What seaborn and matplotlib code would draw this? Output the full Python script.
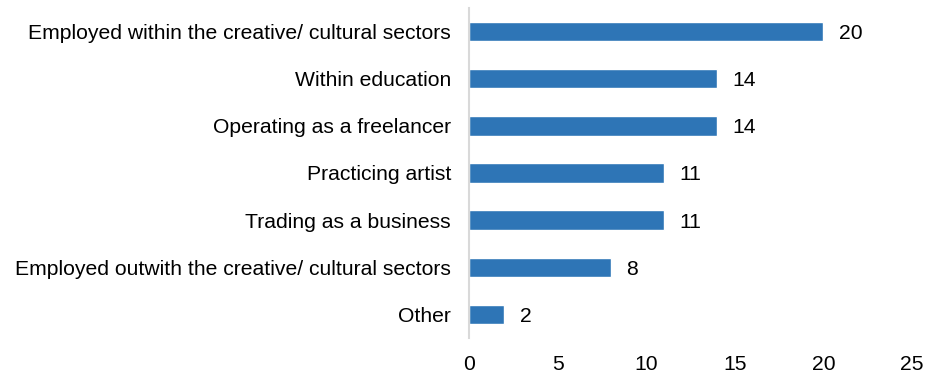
import matplotlib
matplotlib.use("Agg")
import matplotlib.pyplot as plt
import seaborn as sns
import pandas as pd

categories = [
    "Employed within the creative/ cultural sectors",
    "Within education",
    "Operating as a freelancer",
    "Practicing artist",
    "Trading as a business",
    "Employed outwith the creative/ cultural sectors",
    "Other",
]
counts = [20, 14, 14, 11, 11, 8, 2]
x_ticks = [0, 5, 10, 15, 20, 25]

df = pd.DataFrame({"category": categories, "count": counts})

sns.set_theme(style="white")
plt.rcParams["font.family"] = ["Liberation Sans", "DejaVu Sans"]

FS = 15.2

fig = plt.figure(figsize=(9.26, 3.74), dpi=100)
ax = fig.add_axes([0.5065, 0.0963, 0.4785, 0.8823])

sns.barplot(data=df, x="count", y="category", orient="h", color="#2E75B6",
            saturation=1, width=0.41, ax=ax)

for i, v in enumerate(counts):
    ax.text(v + 0.85, i + 0.04, str(v), va="center", ha="left", fontsize=FS, color="#000000")

ax.set_xlim(0, 25)
ax.set_ylim(6.5, -0.5)
ax.set_xticks(x_ticks)
ax.set_xlabel("")
ax.set_ylabel("")
ax.tick_params(axis="both", length=0, labelsize=FS, colors="#000000")
ax.tick_params(axis="y", pad=13)
ax.tick_params(axis="x", pad=12)
for s in ["top", "right", "bottom"]:
    ax.spines[s].set_visible(False)
ax.spines["left"].set_color("#D9D9D9")
ax.spines["left"].set_linewidth(1.5)

fig.savefig("out.png", dpi=100)
